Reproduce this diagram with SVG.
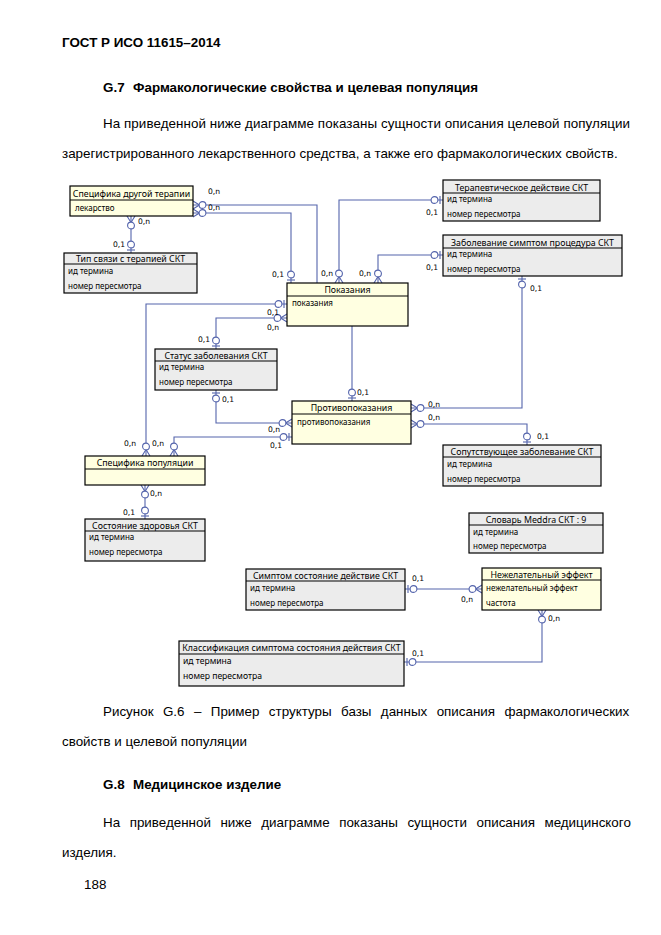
<svg xmlns="http://www.w3.org/2000/svg" width="661" height="935" viewBox="0 0 661 935">
<style>
.body{font-family:"Liberation Sans",Arial,sans-serif;font-size:13.4px;fill:#000}
.bold{font-weight:bold}
.ent rect{stroke:#000;stroke-width:1.2}
.g{fill:#ececec}
.y{fill:#ffffe1}
.dv{stroke:#000;stroke-width:1}
.ht{font-family:"Noto Sans","DejaVu Sans",sans-serif;font-size:8.8px;text-anchor:middle;fill:#000}
.rt{font-family:"Noto Sans","DejaVu Sans",sans-serif;font-size:8px;fill:#000}
.lb{font-family:"DejaVu Sans",sans-serif;font-size:7.6px;fill:#000}
.con path{fill:none;stroke:#5464ac;stroke-width:1.1}
.m1{marker-start:url(#one)}
.mN{marker-start:url(#many)}
.e1{marker-end:url(#one)}
.eN{marker-end:url(#many)}
</style>
<defs>
<marker id="one" markerUnits="userSpaceOnUse" orient="auto-start-reverse" refX="0" refY="0" markerWidth="1" markerHeight="1" style="overflow:visible">
<line x1="-3" y1="-4" x2="-3" y2="4" stroke="#5464ac" stroke-width="1.1"/>
<circle cx="-8.5" cy="0" r="3.4" fill="#fff" stroke="#5464ac" stroke-width="1.1"/>
</marker>
<marker id="many" markerUnits="userSpaceOnUse" orient="auto-start-reverse" refX="0" refY="0" markerWidth="1" markerHeight="1" style="overflow:visible">
<path d="M0,-4 L-6.5,0 L0,4" fill="none" stroke="#5464ac" stroke-width="1.1"/>
<circle cx="-9.5" cy="0" r="3.4" fill="#fff" stroke="#5464ac" stroke-width="1.1"/>
</marker>
</defs>
<rect width="661" height="935" fill="#fff"/>

<text class="body bold" x="62" y="47">ГОСТ Р ИСО 11615–2014</text>
<text class="body bold" x="103" y="92">G.7<tspan x="133">Фармакологические свойства и целевая популяция</tspan></text>
<text class="body" x="103" y="128" textLength="527" lengthAdjust="spacing">На приведенной ниже диаграмме показаны сущности описания целевой популяции</text>
<text class="body" x="62" y="158">зарегистрированного лекарственного средства, а также его фармакологических свойств.</text>

<g class="con" id="connectors">
<path class="mN" d="M193,205 H317 V283"/>
<path class="mN e1" d="M193,213 H291 V283"/>
<path class="m1 eN" d="M443,200 H339 V283"/>
<path class="m1 eN" d="M443,255 H378 V283"/>
<path class="m1 eN" d="M522,276 V408 H411"/>
<path class="e1" d="M352,326 V401"/>
<path class="m1 eN" d="M287,304 H146 V456"/>
<path class="mN e1" d="M287,318 H216 V349"/>
<path class="m1 eN" d="M216,390 V423 H292"/>
<path class="m1 eN" d="M292,437 H174 V456"/>
<path class="mN e1" d="M145,485 V519"/>
<path class="mN e1" d="M411,424 H527 V445"/>
<path class="m1 eN" d="M405,589 H482"/>
<path class="mN e1" d="M542,610 V662 H404"/>
<path class="mN e1" d="M131,216 V253"/>
</g>

<g id="labels">
<text class="lb" x="208" y="194">0,n</text>
<text class="lb" x="208" y="210">0,n</text>
<text class="lb" x="272" y="277">0,1</text>
<text class="lb" x="426" y="215">0,1</text>
<text class="lb" x="321" y="276">0,n</text>
<text class="lb" x="426" y="270">0,1</text>
<text class="lb" x="359" y="276">0,n</text>
<text class="lb" x="530" y="291">0,1</text>
<text class="lb" x="428" y="407">0,n</text>
<text class="lb" x="357" y="395">0,1</text>
<text class="lb" x="267" y="315">0,1</text>
<text class="lb" x="124" y="446">0,n</text>
<text class="lb" x="267" y="330">0,n</text>
<text class="lb" x="198" y="342">0,1</text>
<text class="lb" x="222" y="402">0,1</text>
<text class="lb" x="268" y="432">0,n</text>
<text class="lb" x="270" y="448">0,1</text>
<text class="lb" x="152" y="446">0,n</text>
<text class="lb" x="150" y="496">0,n</text>
<text class="lb" x="123" y="515">0,1</text>
<text class="lb" x="428" y="420">0,n</text>
<text class="lb" x="537" y="439">0,1</text>
<text class="lb" x="412" y="581">0,1</text>
<text class="lb" x="461" y="602">0,n</text>
<text class="lb" x="548" y="621">0,n</text>
<text class="lb" x="412" y="656">0,1</text>
<text class="lb" x="138" y="224">0,n</text>
<text class="lb" x="113" y="247">0,1</text>
</g>

<g class="ent" id="spec-drugoy-terapii">
<rect class="y" x="70" y="186" width="123" height="30"/>
<line class="dv" x1="70" y1="200" x2="193" y2="200"/>
<text class="ht" x="131.5" y="196.5">Специфика другой терапии</text>
<text class="rt" x="75" y="211">лекарство</text>
</g>

<g class="ent" id="tip-svyazi">
<rect class="g" x="64" y="253" width="133" height="40"/>
<line class="dv" x1="64" y1="264" x2="197" y2="264"/>
<text class="ht" x="130.5" y="262">Тип связи с терапией СКТ</text>
<text class="rt" x="68" y="274">ид термина</text>
<text class="rt" x="68" y="289">номер пересмотра</text>
</g>

<g class="ent" id="terap-deystvie">
<rect class="g" x="443" y="180" width="157" height="41"/>
<line class="dv" x1="443" y1="193" x2="600" y2="193"/>
<text class="ht" x="521.5" y="190.5">Терапевтическое действие СКТ</text>
<text class="rt" x="447" y="202">ид термина</text>
<text class="rt" x="447" y="217">номер пересмотра</text>
</g>

<g class="ent" id="zabolevanie-simptom">
<rect class="g" x="443" y="235" width="179" height="41"/>
<line class="dv" x1="443" y1="248" x2="622" y2="248"/>
<text class="ht" x="532.5" y="245.5">Заболевание симптом процедура СКТ</text>
<text class="rt" x="447" y="257">ид термина</text>
<text class="rt" x="447" y="272">номер пересмотра</text>
</g>

<g class="ent" id="pokazaniya">
<rect class="y" x="287" y="283" width="121" height="43"/>
<line class="dv" x1="287" y1="296" x2="408" y2="296"/>
<text class="ht" x="347.5" y="293">Показания</text>
<text class="rt" x="292" y="306">показания</text>
</g>

<g class="ent" id="status-zabolevaniya">
<rect class="g" x="155" y="349" width="122" height="41"/>
<line class="dv" x1="155" y1="361" x2="277" y2="361"/>
<text class="ht" x="216" y="358.5">Статус заболевания СКТ</text>
<text class="rt" x="159" y="370">ид термина</text>
<text class="rt" x="159" y="385">номер пересмотра</text>
</g>

<g class="ent" id="protivopokazaniya">
<rect class="y" x="292" y="401" width="119" height="43"/>
<line class="dv" x1="292" y1="414" x2="411" y2="414"/>
<text class="ht" x="351.5" y="411">Противопоказания</text>
<text class="rt" x="297" y="425">противопоказания</text>
</g>

<g class="ent" id="soputstvuyushchee">
<rect class="g" x="443" y="445" width="158" height="41"/>
<line class="dv" x1="443" y1="457" x2="601" y2="457"/>
<text class="ht" x="522" y="454.5">Сопутствующее заболевание СКТ</text>
<text class="rt" x="447" y="467">ид термина</text>
<text class="rt" x="447" y="482">номер пересмотра</text>
</g>

<g class="ent" id="spec-populyatsii">
<rect class="y" x="85" y="456" width="120" height="29"/>
<line class="dv" x1="85" y1="469" x2="205" y2="469"/>
<text class="ht" x="145" y="466">Специфика популяции</text>
</g>

<g class="ent" id="sostoyanie-zdorovya">
<rect class="g" x="85" y="519" width="120" height="42"/>
<line class="dv" x1="85" y1="531" x2="205" y2="531"/>
<text class="ht" x="145" y="528.5">Состояние здоровья СКТ</text>
<text class="rt" x="89" y="540">ид термина</text>
<text class="rt" x="89" y="555">номер пересмотра</text>
</g>

<g class="ent" id="slovar-meddra">
<rect class="g" x="469" y="513" width="134" height="40"/>
<line class="dv" x1="469" y1="525" x2="603" y2="525"/>
<text class="ht" x="536" y="522.5">Словарь Meddra СКТ : 9</text>
<text class="rt" x="473" y="535">ид термина</text>
<text class="rt" x="473" y="549">номер пересмотра</text>
</g>

<g class="ent" id="simptom-sostoyanie">
<rect class="g" x="246" y="569" width="159" height="41"/>
<line class="dv" x1="246" y1="581" x2="405" y2="581"/>
<text class="ht" x="325.5" y="578.5">Симптом состояние действие СКТ</text>
<text class="rt" x="250" y="591">ид термина</text>
<text class="rt" x="250" y="606">номер пересмотра</text>
</g>

<g class="ent" id="nezhelatelny-effekt">
<rect class="y" x="482" y="568" width="119" height="42"/>
<line class="dv" x1="482" y1="580" x2="601" y2="580"/>
<text class="ht" x="541.5" y="577.5">Нежелательный эффект</text>
<text class="rt" x="486" y="591">нежелательный эффект</text>
<text class="rt" x="486" y="606">частота</text>
</g>

<g class="ent" id="klassifikatsiya">
<rect class="g" x="179" y="641" width="225" height="45"/>
<line class="dv" x1="179" y1="654" x2="404" y2="654"/>
<text class="ht" x="291.5" y="651">Классификация симптома состояния действия СКТ</text>
<text class="rt" x="183" y="664" style="font-size:8.6px">ид термина</text>
<text class="rt" x="183" y="679" style="font-size:8.6px">номер пересмотра</text>
</g>

<text class="body" x="103" y="716" word-spacing="5.7">Рисунок G.6 – Пример структуры базы данных описания фармакологических</text>
<text class="body" x="62" y="746">свойств и целевой популяции</text>
<text class="body bold" x="103" y="789">G.8<tspan x="133">Медицинское изделие</tspan></text>
<text class="body" x="103" y="827" word-spacing="5.8">На приведенной ниже диаграмме показаны сущности описания медицинского</text>
<text class="body" x="62" y="857">изделия.</text>
<text class="body" x="84" y="889">188</text>
</svg>
